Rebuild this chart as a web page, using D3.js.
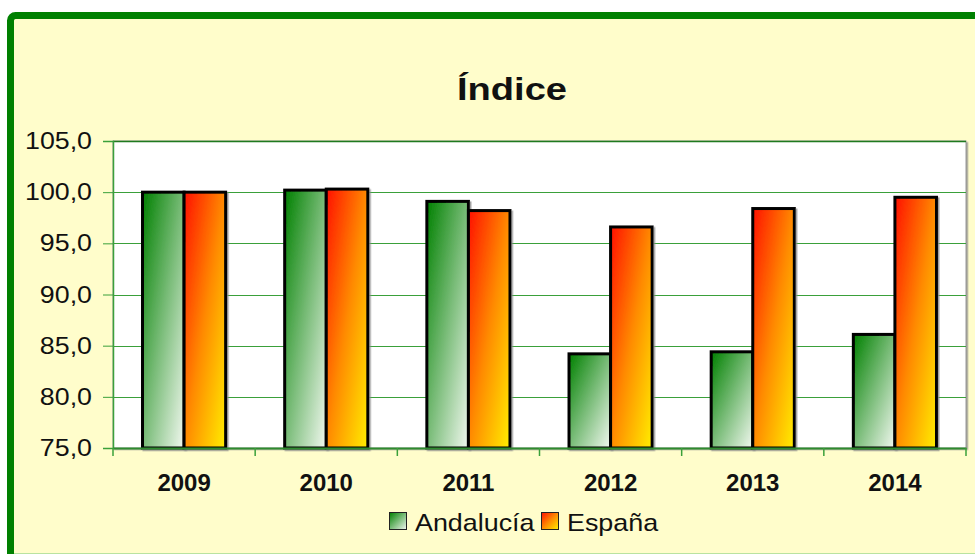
<!DOCTYPE html>
<html>
<head>
<meta charset="utf-8">
<script src="https://cdn.jsdelivr.net/npm/d3@7"></script>
<style>
  body { margin: 0; background: #fff; overflow: hidden; }
  svg { display: block; font-family: "Liberation Sans", Arial, sans-serif; }
</style>
</head>
<body>
<svg id="chart" width="975" height="554"></svg>
<script>
// data
const years = ["2009", "2010", "2011", "2012", "2013", "2014"];
const andalucia = [100.0, 100.2, 99.1, 84.2, 84.4, 86.1];
const espana = [100.0, 100.3, 98.2, 96.6, 98.4, 99.5];
const seriesNames = ["Andalucía", "España"];
const yTicks = [75, 80, 85, 90, 95, 100, 105];

const svg = d3.select("#chart");
const plot = {left: 113, right: 966, top: 141, bottom: 448};

// the reference text is a bit wider than the font, so stretch it sideways
function stretch(sel, sx) {
  sel.each(function() {
    const t = d3.select(this);
    const tx = +t.attr("x") || 0, ty = +t.attr("y") || 0;
    t.attr("x", 0).attr("y", 0)
     .attr("transform", `translate(${tx},${ty}) scale(${sx},1)`);
  });
}

// gradients for the bars
const defs = svg.append("defs");
const gradA = defs.append("linearGradient").attr("id", "gA")
  .attr("x1", 0).attr("y1", 0).attr("x2", 1).attr("y2", 1);
gradA.append("stop").attr("offset", "0%").attr("stop-color", "#008000");
gradA.append("stop").attr("offset", "100%").attr("stop-color", "#f2f8f0");
const gradE = defs.append("linearGradient").attr("id", "gE")
  .attr("x1", 0).attr("y1", 0).attr("x2", 1).attr("y2", 1);
gradE.append("stop").attr("offset", "0%").attr("stop-color", "#ff1000");
gradE.append("stop").attr("offset", "50%").attr("stop-color", "#ff8a00");
gradE.append("stop").attr("offset", "100%").attr("stop-color", "#ffee00");
const shadow = defs.append("filter").attr("id", "sh")
  .attr("x", "-10%").attr("y", "-10%").attr("width", "130%").attr("height", "130%");
shadow.append("feDropShadow").attr("dx", 1.5).attr("dy", 1.5).attr("stdDeviation", 0.6)
  .attr("flood-color", "#888").attr("flood-opacity", 0.8);

// outer frame
svg.append("rect")
  .attr("x", 10.5).attr("y", 15.5).attr("width", 1000).attr("height", 560)
  .attr("rx", 5)
  .attr("fill", "#fffdcb").attr("stroke", "#008000").attr("stroke-width", 7);
svg.append("line")
  .attr("x1", 14).attr("x2", 975).attr("y1", 553.5).attr("y2", 553.5)
  .attr("stroke", "#b9e3a0").attr("stroke-width", 1);

// scales
const x0 = d3.scaleBand().domain(years).range([plot.left, plot.right]).paddingInner(0).paddingOuter(0);
const x1 = d3.scaleBand().domain(seriesNames).range([0, x0.bandwidth()]).paddingInner(0).paddingOuter(0.71);
const y = d3.scaleLinear().domain([75, 105]).range([plot.bottom, plot.top]);

// plot area
svg.append("rect")
  .attr("x", plot.left).attr("y", plot.top)
  .attr("width", plot.right - plot.left).attr("height", plot.bottom - plot.top)
  .attr("fill", "#fff").attr("stroke", "#999").attr("stroke-width", 1)
  .attr("filter", "url(#sh)");

// gridlines
svg.append("g").selectAll("line")
  .data(yTicks.slice(1))
  .join("line")
  .attr("x1", plot.left).attr("x2", plot.right)
  .attr("y1", d => Math.round(y(d)) + 0.5).attr("y2", d => Math.round(y(d)) + 0.5)
  .attr("stroke", d => d === 105 ? "#1f7a1f" : "#3aa03a").attr("stroke-width", d => d === 105 ? 1.5 : 1.2);

// bars
const groups = svg.append("g").selectAll("g")
  .data(years)
  .join("g")
  .attr("transform", d => `translate(${x0(d)},0)`);

groups.selectAll("rect")
  .data((d, i) => [
    {name: "Andalucía", value: andalucia[i], fill: "url(#gA)"},
    {name: "España", value: espana[i], fill: "url(#gE)"}
  ])
  .join("rect")
  .attr("x", d => x1(d.name))
  .attr("y", d => y(d.value))
  .attr("width", x1.bandwidth())
  .attr("height", d => y(75) - y(d.value))
  .attr("fill", d => d.fill)
  .attr("stroke", "#000").attr("stroke-width", 3)
  .attr("filter", "url(#sh)");

// y axis
const yAxis = d3.axisLeft(y).tickValues(yTicks).tickSize(10).tickPadding(11)
  .tickFormat(d => d3.format(".1f")(d).replace(".", ","));
const gy = svg.append("g").attr("transform", `translate(${plot.left},0)`).call(yAxis);
gy.select(".domain").attr("stroke", "#3aa03a").attr("stroke-width", 1.5);
gy.selectAll(".tick line").attr("stroke", "#3aa03a");
gy.selectAll("text").attr("font-size", 23.5).attr("fill", "#111")
  .attr("font-family", "Liberation Sans, Arial, sans-serif")
  .call(stretch, 1.14);

// x axis
const xAxis = d3.axisBottom(x0).tickSize(0).tickPadding(26);
const gx = svg.append("g").attr("transform", `translate(0,${plot.bottom})`).call(xAxis);
gx.select(".domain").attr("stroke", "#2e8b2e").attr("stroke-width", 2);
gx.selectAll("text").attr("font-size", 24).attr("font-weight", "bold").attr("fill", "#111")
  .attr("font-family", "Liberation Sans, Arial, sans-serif");
// ticks between categories
svg.append("g").selectAll("line")
  .data(years.concat(["end"]))
  .join("line")
  .attr("x1", (d, i) => plot.left + i * x0.step())
  .attr("x2", (d, i) => plot.left + i * x0.step())
  .attr("y1", plot.bottom).attr("y2", plot.bottom + 8)
  .attr("stroke", "#3aa03a").attr("stroke-width", 1.5);

// title
svg.append("text")
  .attr("x", 512).attr("y", 100)
  .attr("text-anchor", "middle")
  .attr("font-size", 32).attr("font-weight", "bold").attr("fill", "#111")
  .text("Índice")
  .call(stretch, 1.19);

// legend
const legend = svg.append("g").attr("transform", "translate(389,512)");
const legendItems = [
  {name: seriesNames[0], fill: "url(#gA)", x: 0},
  {name: seriesNames[1], fill: "url(#gE)", x: 152}
];
const li = legend.selectAll("g").data(legendItems).join("g")
  .attr("transform", d => `translate(${d.x},0)`);
li.append("rect")
  .attr("x", 0.5).attr("y", 0.5).attr("width", 17).attr("height", 17)
  .attr("fill", d => d.fill).attr("stroke", "#222").attr("stroke-width", 1);
li.append("text")
  .attr("x", 26).attr("y", 18.5)
  .attr("font-size", 24).attr("fill", "#111")
  .text(d => d.name)
  .call(stretch, 1.12);
</script>
</body>
</html>
